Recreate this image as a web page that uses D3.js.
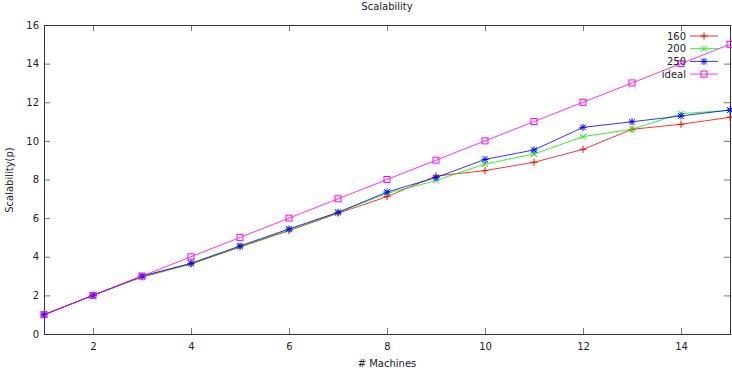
<!DOCTYPE html>
<html><head><meta charset="utf-8">
<script src="https://cdn.jsdelivr.net/npm/d3@7"></script>
<style>body{margin:0;background:#fff}svg{display:block}text{font-family:"DejaVu Sans",sans-serif;font-size:10px;fill:#222}</style>
</head><body><svg id="c" width="732" height="371"></svg>
<script>
const machines = [1,2,3,4,5,6,7,8,9,10,11,12,13,14,15];
const s160 = [1,2,2.95,3.62,4.5,5.35,6.25,7.11,8.18,8.46,8.89,9.56,10.6,10.86,11.22];
const s200 = [1,2,2.97,3.64,4.52,5.4,6.28,7.28,7.95,8.8,9.32,10.22,10.6,11.41,11.58];
const s250 = [1,2,3,3.66,4.56,5.44,6.3,7.35,8.1,9.04,9.53,10.7,10.99,11.29,11.6];
const ideal = [1,2,3,4,5,6,7,8,9,10,11,12,13,14,15];
const xTicks = [2,4,6,8,10,12,14];
const yTicks = [0,2,4,6,8,10,12,14,16];
const seriesNames = ["160","200","250","ideal"];

const svg = d3.select("#c");
const L=44,R=730,T=25,B=334;
const x = d3.scaleLinear().domain([1,15]).range([L,R]);
const y = d3.scaleLinear().domain([0,16]).range([B,T]);

const tl = 6;
const g = svg.append("g");
g.append("g").attr("transform",`translate(0,${B})`)
  .call(d3.axisBottom(x).tickValues(xTicks).tickSize(-tl).tickPadding(9).tickFormat(d3.format("d")))
  .call(a=>{a.select(".domain").remove();});
g.append("g").attr("transform",`translate(0,${T})`)
  .call(d3.axisTop(x).tickValues(xTicks).tickSize(-tl).tickFormat(""))
  .call(a=>{a.select(".domain").remove();});
g.append("g").attr("transform",`translate(${L},0)`)
  .call(d3.axisLeft(y).tickValues(yTicks).tickSize(-tl).tickPadding(5).tickFormat(d3.format("d")))
  .call(a=>{a.select(".domain").remove();});
g.append("g").attr("transform",`translate(${R},0)`)
  .call(d3.axisRight(y).tickValues(yTicks).tickSize(-tl).tickFormat(""))
  .call(a=>{a.select(".domain").remove();});
g.selectAll(".tick line").attr("stroke","#777");
g.selectAll(".tick text").style("font-family","DejaVu Sans").style("font-size","10px").attr("fill","#222");

svg.append("rect").attr("x",L+0.5).attr("y",T+0.5).attr("width",R-L).attr("height",B-T)
  .attr("fill","none").attr("stroke","#333").attr("stroke-width",1);

const colors = ["#ff0000","#00ee00","#0000ff","#ff00ff"];
const data = [s160,s200,s250,ideal];

function marker(sel, type, color){
  const s=3.5;
  if(type===0){ sel.append("path").attr("d",`M${-s},0H${s}M0,${-s}V${s}`); }
  else if(type===1){ sel.append("path").attr("d",`M-3,-3L3,3M-3,3L3,-3`); }
  else if(type===2){ sel.append("path").attr("d",`M${-s},0H${s}M0,${-s}V${s}M-2.8,-2.8L2.8,2.8M-2.8,2.8L2.8,-2.8`); }
  else { sel.append("rect").attr("x",-3).attr("y",-3).attr("width",6).attr("height",6).attr("fill","none"); }
  sel.selectAll("path,rect").attr("stroke",color).attr("stroke-width",1);
}

const line = d3.line().x((d,i)=>x(machines[i])).y(d=>y(d));
data.forEach((vals,k)=>{
  svg.append("path").datum(vals).attr("d",line).attr("fill","none").attr("stroke",colors[k]).attr("stroke-width",1).attr("stroke-opacity",0.8);
  vals.forEach((v,i)=>{
    const m = svg.append("g").attr("transform",`translate(${x(machines[i])},${y(v)})`);
    marker(m,k,colors[k]);
  });
});

seriesNames.forEach((n,k)=>{
  const cy = 36 + k*12.7;
  svg.append("text").attr("x",686).attr("y",cy+3.7).attr("text-anchor","end").text(n);
  svg.append("line").attr("x1",690).attr("x2",718).attr("y1",cy).attr("y2",cy).attr("stroke",colors[k]).attr("stroke-opacity",0.8);
  const m = svg.append("g").attr("transform",`translate(704,${cy})`);
  marker(m,k,colors[k]);
});

svg.append("text").attr("x",387).attr("y",10).attr("text-anchor","middle").text("Scalability");
svg.append("text").attr("x",387).attr("y",367).attr("text-anchor","middle").text("# Machines");
svg.append("text").attr("transform","translate(12.5,180) rotate(-90)").attr("text-anchor","middle").text("Scalability(p)");
</script></body></html>
